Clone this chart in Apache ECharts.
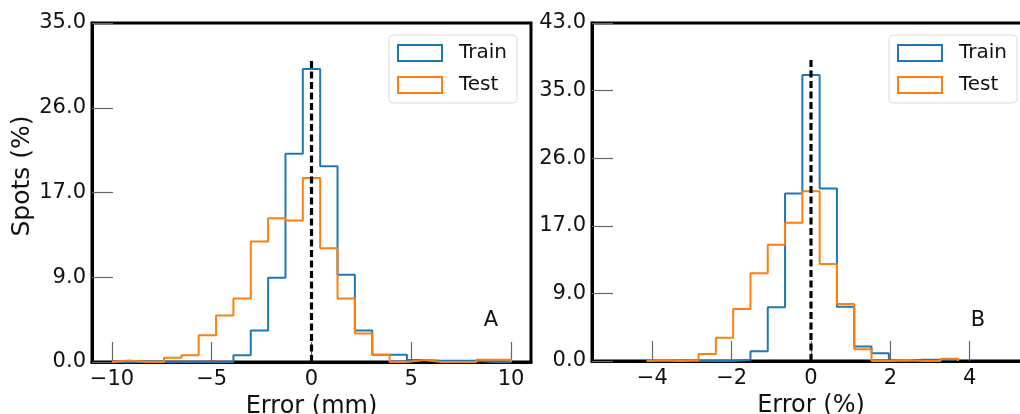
<!DOCTYPE html>
<html><head><meta charset="utf-8">
<script src="https://cdn.jsdelivr.net/npm/echarts@6/dist/echarts.min.js"></script>
<style>html,body{margin:0;padding:0;background:#fff}#c{width:1020px;height:414px}</style>
</head><body><div id="c"></div>
<script>
// ---------- Panel A: Error (mm) ----------
const binRangeA = [-10, 10];           // 23 equal bins
const trainA = [0, 0, 0, 0, 0, 0, 0, 0.7, 3.25, 8.7, 21.5, 30.25, 20.2, 9.0, 3.25, 0.76, 0.76, 0.2, 0.12, 0.12, 0.12, 0, 0];
const testA  = [0.15, 0, 0, 0.45, 0.7, 2.75, 4.8, 6.55, 12.45, 14.85, 14.6, 19.0, 11.75, 6.55, 2.95, 0.76, 0, 0.2, 0, 0, 0, 0.22, 0.22];
const xTicksA = [-10, -5, 0, 5, 10];
const yTickValsA = [0, 8.75, 17.5, 26.25, 35];
const yTickLabelsA = ['0.0', '9.0', '17.0', '26.0', '35.0'];
const xLimA = [-11, 11];
const yMaxA = 35;
const refTopA = 31.4;

// ---------- Panel B: Error (%) ----------
const binRangeB = [-4.142, 3.706];     // 18 equal bins
const trainB = [0, 0, 0, 0, 0, 0.15, 1.25, 6.85, 21.3, 36.4, 21.95, 6.9, 1.85, 0.98, 0, 0.15, 0.15, 0.15];
const testB  = [0.1, 0, 0.1, 0.9, 2.95, 6.6, 11.15, 14.8, 17.6, 21.6, 12.35, 7.25, 1.5, 0, 0.1, 0, 0, 0.3];
const xTicksB = [-4, -2, 0, 2, 4];
const yTickValsB = [0, 8.6, 17.2, 25.8, 34.4, 43];
const yTickLabelsB = ['0.0', '9.0', '17.0', '26.0', '35.0', '43.0'];
const xLimB = [-5.52, 5.52];
const yMaxB = 43;
const refTopB = 38.5;

const seriesNames = ['Train', 'Test'];
const colors = ['#1f77b4', '#ff7f0e'];
const FONT = 'DejaVu Sans';

function stepPts(range, counts) {
  const w = (range[1] - range[0]) / counts.length;
  const pts = [[range[0], 0]];
  counts.forEach((c, i) => { pts.push([range[0] + i * w, c]); pts.push([range[0] + (i + 1) * w, c]); });
  pts.push([range[1], 0]);
  return pts;
}
function minusFmt(v) { return v < 0 ? '\u2212' + Math.abs(v) : String(v); }
function lookupFmt(vals, labels) {
  return function (v) {
    for (let i = 0; i < vals.length; i++) if (Math.abs(vals[i] - v) < 1e-6) return labels[i];
    return '';
  };
}

const chart = echarts.init(document.getElementById('c'));

function xAxisCfg(gi, lim, ticks, name) {
  return {
    type: 'value', gridIndex: gi, min: lim[0], max: lim[1],
    name: name, nameLocation: 'middle', nameGap: 23,
    nameTextStyle: { fontFamily: FONT, fontSize: 24, color: '#111' },
    axisLine: { show: true, onZero: false, lineStyle: { color: '#000', width: 3 } },
    axisTick: { show: true, inside: true, length: 20, customValues: ticks, lineStyle: { color: '#666', width: 1.2 } },
    axisLabel: { customValues: ticks, formatter: minusFmt, margin: 7, fontFamily: FONT, fontSize: 21, color: '#111' },
    splitLine: { show: false }
  };
}
function yAxisCfg(gi, ymax, vals, labels) {
  return {
    type: 'value', gridIndex: gi, min: 0, max: ymax,
    axisLine: { show: true, onZero: false, lineStyle: { color: '#000', width: 3 } },
    axisTick: { show: true, inside: true, length: 21, customValues: vals, lineStyle: { color: '#666', width: 1.2 } },
    axisLabel: { customValues: vals, formatter: lookupFmt(vals, labels), margin: 6, fontFamily: FONT, fontSize: 21, color: '#111' },
    splitLine: { show: false }
  };
}
function histSeries(name, gi, range, counts, color) {
  return {
    name: name, type: 'line', xAxisIndex: gi, yAxisIndex: gi,
    data: stepPts(range, counts), symbol: 'none', showSymbol: false,
    lineStyle: { color: color, width: 2 }, itemStyle: { color: color }, z: 3, silent: true
  };
}
function refSeries(gi, top) {
  return {
    name: 'ref', type: 'line', xAxisIndex: gi, yAxisIndex: gi,
    data: [[0, 0], [0, top]], symbol: 'none', showSymbol: false,
    lineStyle: { color: '#000', width: 3.2, type: [7, 3.5] }, z: 5, silent: true
  };
}
function legendCfg(left) {
  return {
    left: left, top: 35, orient: 'vertical', selectedMode: false,
    itemWidth: 44, itemHeight: 16, itemGap: 12,
    padding: [8, 10, 8, 8], backgroundColor: '#fff', borderColor: '#dcdcdc', borderWidth: 1, borderRadius: 4,
    textStyle: { fontFamily: FONT, fontSize: 20, color: '#111', padding: [0, 0, 0, 12] },
    data: seriesNames.map((n, i) => ({ name: n, icon: 'rect', itemStyle: { color: '#fff', borderColor: colors[i], borderWidth: 2 } }))
  };
}

chart.setOption({
  animation: false,
  backgroundColor: '#fff',
  grid: [
    { left: 92, top: 23, width: 439, height: 339, outerBoundsMode: 'none', containLabel: false, show: true, borderColor: '#000', borderWidth: 3, backgroundColor: 'transparent' },
    { left: 592, top: 23, width: 438, height: 338, outerBoundsMode: 'none', containLabel: false, show: true, borderColor: '#000', borderWidth: 3, backgroundColor: 'transparent' }
  ],
  xAxis: [xAxisCfg(0, xLimA, xTicksA, 'Error (mm)'), xAxisCfg(1, xLimB, xTicksB, 'Error (%)')],
  yAxis: [yAxisCfg(0, yMaxA, yTickValsA, yTickLabelsA), yAxisCfg(1, yMaxB, yTickValsB, yTickLabelsB)],
  legend: [legendCfg(389), legendCfg(889)],
  series: [
    histSeries(seriesNames[0], 0, binRangeA, trainA, colors[0]),
    histSeries(seriesNames[1], 0, binRangeA, testA, colors[1]),
    refSeries(0, refTopA),
    histSeries(seriesNames[0], 1, binRangeB, trainB, colors[0]),
    histSeries(seriesNames[1], 1, binRangeB, testB, colors[1]),
    refSeries(1, refTopB)
  ],
  graphic: [
    { type: 'text', x: 22, y: 176, rotation: Math.PI / 2,
      style: { text: 'Spots (%)', fontFamily: FONT, fontSize: 25, fill: '#111', align: 'center', verticalAlign: 'middle' } },
    { type: 'text', x: 491, y: 321,
      style: { text: 'A', fontFamily: FONT, fontSize: 21, fill: '#111', align: 'center', verticalAlign: 'middle' } },
    { type: 'text', x: 978, y: 321,
      style: { text: 'B', fontFamily: FONT, fontSize: 21, fill: '#111', align: 'center', verticalAlign: 'middle' } }
  ]
});
</script>
</body></html>
